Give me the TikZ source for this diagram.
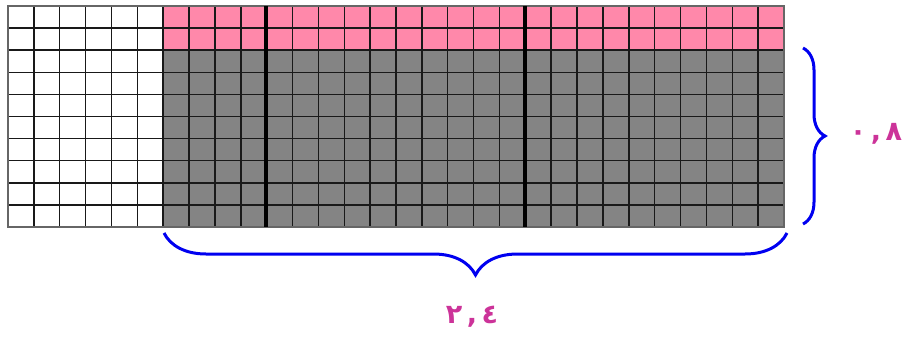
\documentclass[tikz,border=0pt]{standalone}
\usepackage{fontspec}
\newfontfamily\arabicfont[Script=Arabic]{DejaVu Sans}
\usetikzlibrary{decorations.pathreplacing}
\definecolor{cellpink}{HTML}{FF88AA}
\definecolor{cellgray}{HTML}{848484}
\definecolor{braceblue}{HTML}{0000F0}
\definecolor{labelmag}{HTML}{CC3399}

\begin{document}
\begin{tikzpicture}[x=1pt, y=-1pt, line width=1.5pt,
  bracedec/.style={braceblue, line width=3pt, decorate},
  numlabel/.style={text=labelmag, font=\fontsize{27}{30}\selectfont\bfseries\arabicfont}]

\useasboundingbox (0,0) rectangle (904,337);

% --- Shaded cells (2.4 x 1 by 1, with 0.8 grey) ---
\fill[cellgray] (163.2,50.2) rectangle (784,227);
\fill[cellpink] (163.2,6) rectangle (784,50.2);

% --- Grid of 3 blocks, 10 x 10 each ---
\foreach \i in {0,...,30}
  \draw[black!90] ({8+\i*25.867},6) -- ({8+\i*25.867},227);
\foreach \j in {0,...,10}
  \draw[black!90] (8,{6+\j*22.1}) -- (784,{6+\j*22.1});
\draw[black!60] (8,6) rectangle (784,227);

% block separators
\draw[line width=4pt] (265.5,6) -- (265.5,227);
\draw[line width=4pt] (525,6) -- (525,227);

% --- Braces ---
\coordinate (rtop) at (803,48);
\coordinate (rbot) at (803,224);
\coordinate (bleft) at (164,233);
\coordinate (bright) at (787,233);
\draw[bracedec, decoration={brace, amplitude=22pt}] (rtop) -- (rbot);
\draw[bracedec, decoration={brace, amplitude=42pt}] (bright) -- (bleft);

% --- Labels ---
\node[numlabel] (heightlbl) at (876,134) {٠\,,\,٨};
\node[numlabel] (widthlbl) at (472,317) {٢\,,\,٤};

\end{tikzpicture}
\end{document}
